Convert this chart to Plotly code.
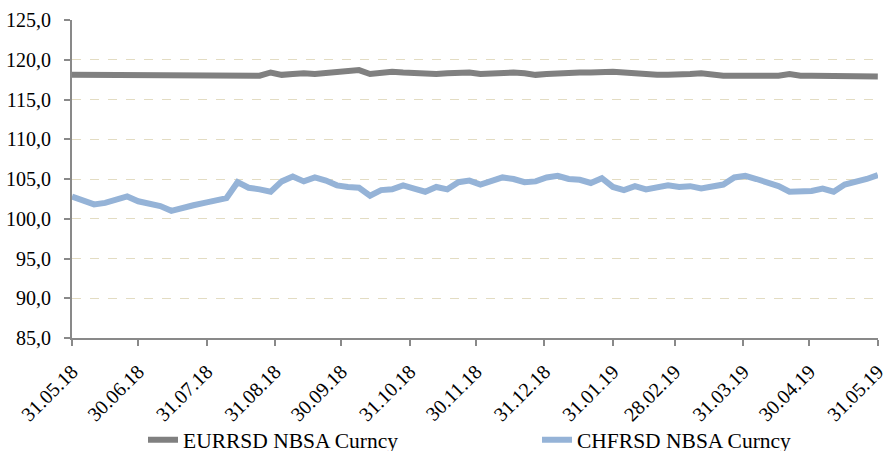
import pandas as pd
import plotly.graph_objs as go

# 5-day sampling, 31.05.18 .. 31.05.19
dates = pd.date_range('2018-05-31', '2019-05-31', freq='5D')

eur = [118.1, 118.1, 118.1, 118.1, 118.0, 118.0, 118.0, 118.0, 118.0, 118.0,
       118.0, 118.0, 118.0, 118.0, 118.0, 118.0, 118.0, 118.0, 118.4, 118.1,
       118.2, 118.3, 118.2, 118.3, 118.4, 118.5, 118.7, 118.2, 118.3, 118.5,
       118.4, 118.3, 118.2, 118.2, 118.3, 118.4, 118.4, 118.2, 118.3, 118.3,
       118.4, 118.3, 118.1, 118.2, 118.3, 118.3, 118.4, 118.4, 118.5, 118.5,
       118.4, 118.3, 118.1, 118.1, 118.1, 118.1, 118.2, 118.3, 118.1, 118.0,
       118.0, 118.0, 118.0, 118.0, 118.0, 118.2, 118.0, 118.0, 118.0, 118.0,
       118.0, 118.0, 117.9, 117.9]

chf = [102.8, 102.3, 101.8, 102.0, 102.5, 102.8, 102.2, 101.9, 101.6, 101.0,
       101.4, 101.7, 102.0, 102.3, 102.6, 104.6, 103.9, 103.7, 103.4, 104.7,
       105.3, 104.7, 105.2, 104.8, 104.2, 104.0, 103.9, 102.9, 103.6, 103.7,
       104.2, 103.8, 103.4, 104.0, 103.7, 104.6, 104.8, 104.3, 104.7, 105.2,
       105.0, 104.6, 104.7, 105.2, 105.4, 105.0, 104.9, 104.5, 105.1, 104.0,
       103.6, 104.1, 103.7, 104.0, 104.2, 104.0, 104.1, 103.8, 104.0, 104.3,
       105.2, 105.4, 105.0, 104.6, 104.1, 103.4, 103.4, 103.5, 103.8, 103.4,
       104.3, 104.6, 105.0, 105.5]

month_ends = ['2018-05-31', '2018-06-30', '2018-07-31', '2018-08-31', '2018-09-30',
              '2018-10-31', '2018-11-30', '2018-12-31', '2019-01-31', '2019-02-28',
              '2019-03-31', '2019-04-30', '2019-05-31']

y_ticks = [85, 90, 95, 100, 105, 110, 115, 120, 125]

font_family = 'Times New Roman, Liberation Serif, serif'

data = [
    go.Scatter(x=dates, y=eur, name='EURRSD NBSA Curncy', mode='lines',
               line=dict(color='#808080', width=6), legend='legend'),
    go.Scatter(x=dates, y=chf, name='CHFRSD NBSA Curncy', mode='lines',
               line=dict(color='#95b3d7', width=6), legend='legend2'),
]

legend_style = dict(orientation='h', xref='container', yref='container',
                    xanchor='left', yanchor='middle', y=0.025,
                    font=dict(family=font_family, size=21.5, color='#000000'),
                    bgcolor='rgba(0,0,0,0)', borderwidth=0)

layout = go.Layout(
    width=883, height=451,
    paper_bgcolor='white', plot_bgcolor='white',
    font=dict(family=font_family, size=20, color='#000000'),
    separators=',.',
    showlegend=True,
    legend=dict(x=143 / 883, **legend_style),
    legend2=dict(x=537 / 883, **legend_style),
    xaxis=dict(
        range=['2018-05-31', '2019-05-31 02:00'],
        tickvals=month_ends, tickformat='%d.%m.%y', tickangle=-45,
        ticklabeloverflow='allow', ticklabelstandoff=6,
        showgrid=False, zeroline=False, automargin=False,
        showline=True, linecolor='#898989', linewidth=2,
        ticks='outside', tickcolor='#898989', ticklen=6, tickwidth=2,
    ),
    yaxis=dict(
        range=[85, 125], tickvals=y_ticks, tickformat='.1f',
        ticklabelstandoff=9,
        showgrid=True, gridcolor='#e3dcc2', griddash='dash', gridwidth=1,
        zeroline=False, automargin=False,
        showline=True, linecolor='#898989', linewidth=2,
        ticks='outside', tickcolor='#898989', ticklen=6, tickwidth=2,
    ),
    margin=dict(l=72, r=5, t=20, b=113, pad=0, autoexpand=False),
)

fig = go.Figure(data=data, layout=layout)
# page body has a default margin, drop it so the chart sits at 0,0
fig.write_html("out.html", config={'displayModeBar': False},
               post_script="document.body.style.margin='0';")
